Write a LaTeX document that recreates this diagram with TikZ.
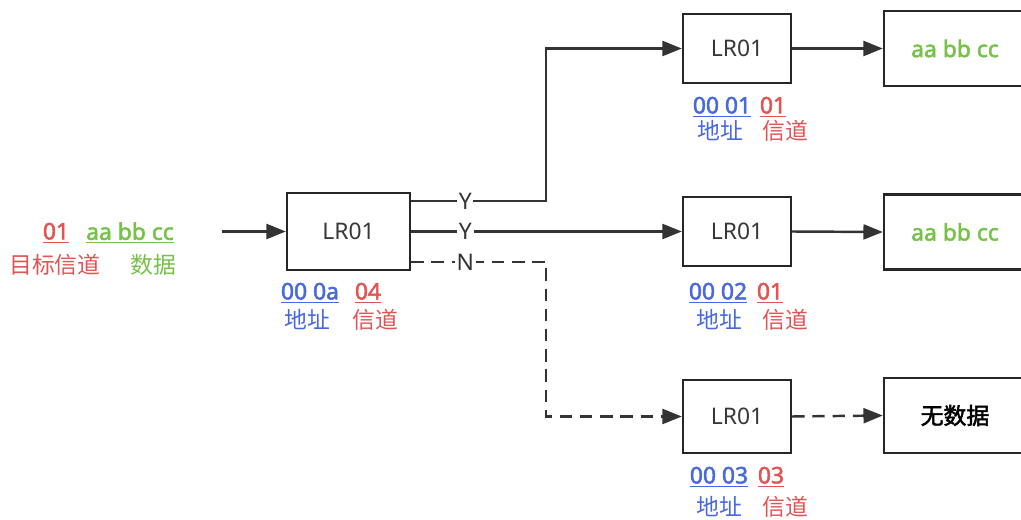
\documentclass[tikz,border=0pt]{standalone}
\usepackage{fontspec}
\setmainfont{Noto Sans}[AutoFakeBold=2.2]
\newfontfamily\cjk{Noto Sans CJK SC}[AutoFakeBold=2.2]
\usetikzlibrary{arrows.meta}
\definecolor{addrblue}{RGB}{72,104,222}
\definecolor{chred}{RGB}{224,84,84}
\definecolor{datagreen}{RGB}{118,194,72}
\definecolor{boxtext}{RGB}{55,55,55}
\tikzset{
  every node/.style={font=\fontsize{13}{15}\selectfont},
  relay/.style={draw=black!85, line width=1.4pt, minimum width=2.16cm, minimum height=1.38cm, text=boxtext},
  sink/.style={draw=black!85, line width=1.4pt, minimum width=2.84cm, minimum height=1.5cm, font=\fontsize{13}{15}\selectfont\bfseries},
  link/.style={line width=1.4pt, draw=black!80, -{Triangle[length=11pt,width=8.5pt]}},
  nolink/.style={line width=1.4pt, draw=black!80, dash pattern=on 7pt off 4.5pt},
  tag/.style={fill=white, inner sep=1pt, text=black!80},
  addr/.style={text=addrblue, font=\fontsize{13}{15}\selectfont\bfseries},
  chan/.style={text=chred, font=\fontsize{13}{15}\selectfont\bfseries},
  addrname/.style={text=addrblue, font=\fontsize{13}{15}\selectfont\cjk},
  channame/.style={text=chred, font=\fontsize{13}{15}\selectfont\cjk}
}
\begin{document}
\begin{tikzpicture}[x=0.02cm, y=-0.02cm]
\useasboundingbox (0,0) rectangle (1021,520);
\node[relay, minimum width=2.46cm, minimum height=1.54cm] (lrA) at (348.5,231.5) {LR01};
\node[relay] (lrTop) at (737,48.5) {LR01};
\node[relay] (lrMid) at (737,231.5) {LR01};
\node[relay, minimum height=1.46cm] (lrBot) at (737,416.5) {LR01};
\node[sink, text=datagreen] (outTop) at (955,48.5) {aa bb cc};
\node[sink, text=datagreen] (outMid) at (955,232) {aa bb cc};
\node[sink] (outBot) at (955,415.5) {\cjk\bfseries 无数据};
\coordinate (src) at (222,231.5);
\node[chan] (srcCh) at (56,233) {\underline{01}};
\node[text=datagreen, font=\fontsize{13}{15}\selectfont\bfseries] (srcData) at (130,233) {\underline{aa bb cc}};
\node[channame] (srcChName) at (55,265) {目标信道};
\node[text=datagreen, font=\fontsize{13}{15}\selectfont\cjk] (srcDataName) at (153,265) {数据};
\node[addr] (addrA) at (310,293) {\underline{00 0a}};
\node[chan] (chA) at (368,293) {\underline{04}};
\node[addrname] at (307,320) {地址};
\node[channame] at (375,320) {信道};
\node[addr] (addrTop) at (722,107) {\underline{00 01}};
\node[chan] (chTop) at (773,107) {\underline{01}};
\node[addrname] at (720,131) {地址};
\node[channame] at (785,131) {信道};
\node[addr] (addrMid) at (718,293) {\underline{00 02}};
\node[chan] (chMid) at (770,293) {\underline{01}};
\node[addrname] at (719,320) {地址};
\node[channame] at (785,320) {信道};
\node[addr] (addrBot) at (719,477) {\underline{00 03}};
\node[chan] (chBot) at (771,477) {\underline{03}};
\node[addrname] at (719,507) {地址};
\node[channame] at (785,507) {信道};
\draw[link] (src) -- (lrA.west);
\draw[link] ([yshift=0.61cm]lrA.east) -- node[tag, pos=0.4] {Y} ++(135,0) |- (lrTop.west);
\draw[link] (lrA.east) -- node[tag, pos=0.2] {Y} (lrMid.west);
\draw[nolink, -{Triangle[length=11pt,width=8.5pt]}] ([yshift=-0.61cm]lrA.east) -- node[tag, pos=0.4] {N} ++(135,0) |- (lrBot.west);
\draw[link] (lrTop.east) -- (outTop.west);
\draw[link] (lrMid.east) -- (outMid.west);
\draw[nolink, -{Triangle[length=11pt,width=8.5pt]}] (lrBot.east) -- (outBot.west);
\end{tikzpicture}
\end{document}
